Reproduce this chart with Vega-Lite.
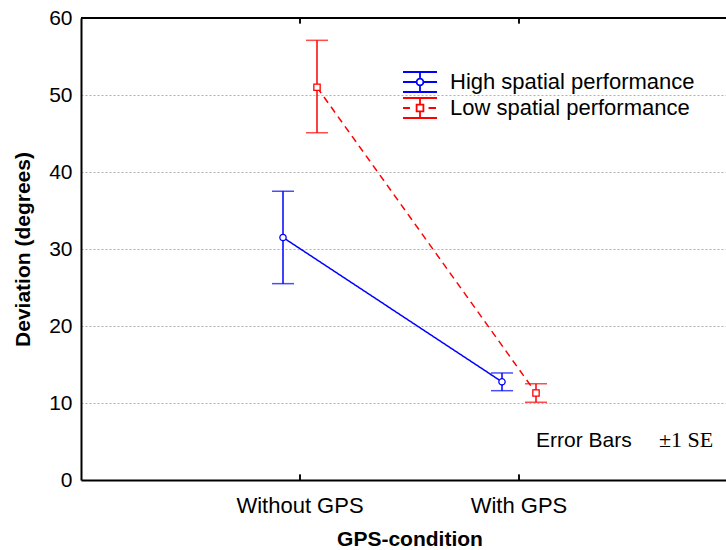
{
  "$schema": "https://vega.github.io/schema/vega-lite/v6.json",
  "autosize": {"type": "none"},
  "padding": {"left": 81, "top": 18, "right": 0, "bottom": 70},
  "width": 645,
  "height": 462,
  "background": "white",
  "config": {"view": {"stroke": null}, "font": "Liberation Sans"},
  "data": {"values": [
    {"condition": "Without GPS", "group": "High spatial performance", "mean": 31.5, "lo": 25.5, "hi": 37.5},
    {"condition": "Without GPS", "group": "Low spatial performance", "mean": 51.0, "lo": 45.1, "hi": 57.1},
    {"condition": "With GPS", "group": "High spatial performance", "mean": 12.75, "lo": 11.6, "hi": 13.9},
    {"condition": "With GPS", "group": "Low spatial performance", "mean": 11.3, "lo": 10.1, "hi": 12.5}
  ]},
  "layer": [
    {
      "mark": {"type": "line", "strokeWidth": 1.5},
      "encoding": {
        "x": {"field": "condition", "type": "nominal", "sort": ["Without GPS", "With GPS"],
          "scale": {"range": [0, 657], "paddingInner": 0, "paddingOuter": 0.5},
          "axis": {"orient": "bottom", "title": "GPS-condition", "titleFont": "Liberation Sans", "titleFontSize": 21, "titleFontWeight": "bold", "titleColor": "black", "titlePadding": 12,
            "labelFont": "Liberation Sans", "labelFontSize": 22, "labelColor": "black", "labelAngle": 0, "labelPadding": 15,
            "domainColor": "black", "domainWidth": 2, "ticks": false, "bandPosition": 0.5, "grid": false}},
        "xOffset": {"field": "group", "type": "nominal", "scale": {"range": [75.5, 143.5], "paddingInner": 0, "paddingOuter": 0}},
        "y": {"field": "mean", "type": "quantitative", "scale": {"domain": [0, 60], "nice": false},
          "axis": {"title": "Deviation (degrees)", "titleFont": "Liberation Sans", "titleFontSize": 21, "titleFontWeight": "bold", "titleColor": "black", "titlePadding": 15,
            "labelFont": "Liberation Sans", "labelFontSize": 21, "labelColor": "black", "labelPadding": 9, "ticks": false,
            "values": [0, 10, 20, 30, 40, 50, 60], "domainColor": "black", "domainWidth": 2,
            "grid": true, "gridColor": "#b0b0b0", "gridDash": [2, 2], "gridWidth": 1}},
        "color": {"field": "group", "type": "nominal", "scale": {"range": ["#0000ff", "#ff0000"]},
          "legend": {"title": null, "orient": "none", "legendX": 328, "legendY": 53, "padding": 0,
            "labelFont": "Liberation Sans", "labelFontSize": 22, "labelColor": "black", "labelOffset": 19, "labelLimit": 0, "rowPadding": -2,
            "symbolSize": 400, "symbolStrokeWidth": 1.8, "symbolFillColor": "white",
            "encode": {"symbols": {"update": {
              "shape": {"signal": "datum.value === 'High spatial performance' ? 'M-1.7,-1H1.7M-1.7,1H1.7M0,-1V-0.34M0,0.34V1M-1.7,0H-0.34M0.34,0H1.7M0.34,0A0.34,0.34,0,1,1,-0.34,0A0.34,0.34,0,1,1,0.34,0' : 'M-1.7,-1H1.7M-1.7,1H1.7M0,-1V-0.34M0,0.34V1M-1.7,0H-1M0.85,0H1.6M-0.34,-0.34H0.34V0.34H-0.34Z'"},
              "fill": {"value": "white"},
              "fillOpacity": {"value": 0},
              "strokeDash": {"value": []},
              "opacity": {"value": 1}
            }}}}},
        "strokeDash": {"field": "group", "type": "nominal", "scale": {"range": [[1, 0], [7, 5]]}, "legend": null}
      }
    },
    {
      "mark": {"type": "rule", "strokeWidth": 1.5},
      "encoding": {
        "x": {"field": "condition", "type": "nominal", "sort": ["Without GPS", "With GPS"]},
        "xOffset": {"field": "group", "type": "nominal"},
        "y": {"field": "lo", "type": "quantitative"},
        "y2": {"field": "hi"},
        "color": {"field": "group", "type": "nominal"}
      }
    },
    {
      "mark": {"type": "tick", "size": 22, "thickness": 1.5},
      "encoding": {
        "x": {"field": "condition", "type": "nominal", "sort": ["Without GPS", "With GPS"]},
        "xOffset": {"field": "group", "type": "nominal"},
        "y": {"field": "lo", "type": "quantitative"},
        "color": {"field": "group", "type": "nominal"}
      }
    },
    {
      "mark": {"type": "tick", "size": 22, "thickness": 1.5},
      "encoding": {
        "x": {"field": "condition", "type": "nominal", "sort": ["Without GPS", "With GPS"]},
        "xOffset": {"field": "group", "type": "nominal"},
        "y": {"field": "hi", "type": "quantitative"},
        "color": {"field": "group", "type": "nominal"}
      }
    },
    {
      "mark": {"type": "point", "filled": false, "fill": "white", "strokeWidth": 1.3, "size": 40, "opacity": 1},
      "encoding": {
        "x": {"field": "condition", "type": "nominal", "sort": ["Without GPS", "With GPS"]},
        "xOffset": {"field": "group", "type": "nominal"},
        "y": {"field": "mean", "type": "quantitative"},
        "color": {"field": "group", "type": "nominal"},
        "shape": {"field": "group", "type": "nominal", "scale": {"range": ["circle", "square"]}, "legend": null}
      }
    },
    {
      "data": {"values": [{"edge": "top"}]},
      "mark": {"type": "rule", "strokeWidth": 2, "color": "black"},
      "encoding": {
        "y": {"datum": 60}
      }
    },
    {
      "mark": {"type": "rule", "strokeWidth": 1.5, "color": "black"},
      "encoding": {
        "x": {"field": "condition", "type": "nominal", "sort": ["Without GPS", "With GPS"]},
        "y": {"datum": 60},
        "y2": {"datum": 59.3}
      }
    },
    {
      "mark": {"type": "rule", "strokeWidth": 1.5, "color": "black"},
      "encoding": {
        "x": {"field": "condition", "type": "nominal", "sort": ["Without GPS", "With GPS"]},
        "y": {"datum": 0},
        "y2": {"datum": 0.7}
      }
    },
    {
      "data": {"values": [{"note": "Error Bars"}]},
      "mark": {"type": "text", "align": "left", "baseline": "alphabetic", "font": "Liberation Sans", "fontSize": 21, "color": "black", "dx": 17},
      "encoding": {
        "x": {"datum": "With GPS"},
        "y": {"datum": 4.23},
        "text": {"field": "note"}
      }
    },
    {
      "data": {"values": [{"note": "±1 SE"}]},
      "mark": {"type": "text", "align": "left", "baseline": "alphabetic", "font": "Liberation Serif", "fontSize": 22, "color": "black", "dx": 140},
      "encoding": {
        "x": {"datum": "With GPS"},
        "y": {"datum": 4.23},
        "text": {"field": "note"}
      }
    }
  ]
}
